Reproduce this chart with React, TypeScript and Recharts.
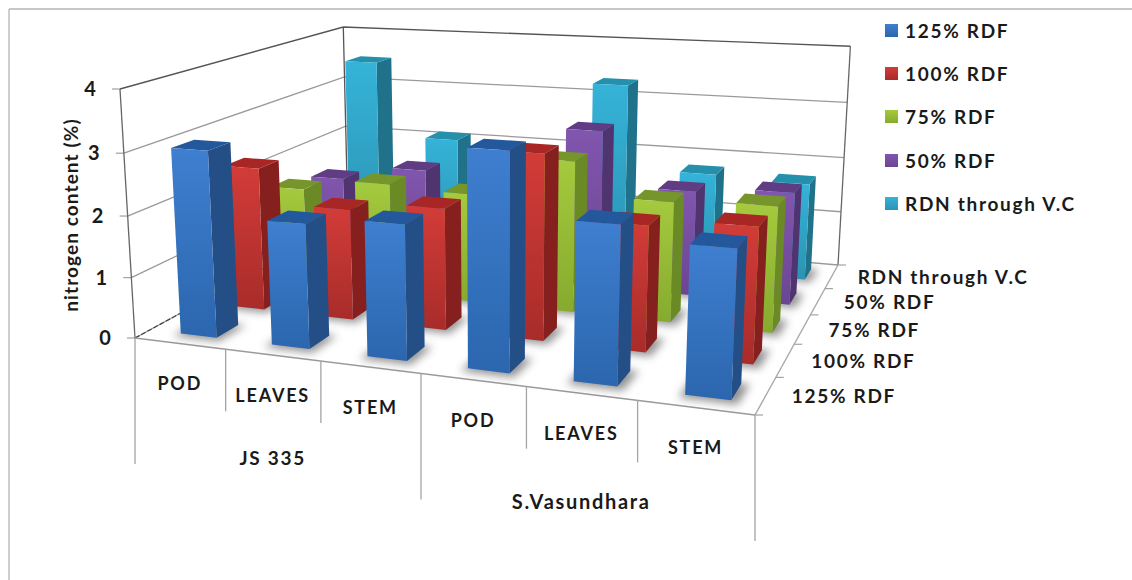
import React from 'react';
import { BarChart, Bar, XAxis, YAxis, Legend, Customized } from 'recharts';

// Categories and series
const parts = ['POD', 'LEAVES', 'STEM', 'POD', 'LEAVES', 'STEM'];
const varieties = ['JS 335', 'S.Vasundhara'];
const seriesNames = ['125% RDF', '100% RDF', '75% RDF', '50% RDF', 'RDN through V.C'];
const yTicks = [0, 1, 2, 3, 4];

// Nitrogen content (%) per plant part
const rdf125 = [3.03, 2.0, 2.13, 3.35, 2.4, 2.2];
const rdf100 = [2.42, 1.85, 2.0, 2.99, 2.0, 2.12];
const rdf75 = [1.72, 1.93, 1.87, 2.55, 2.0, 2.06];
const rdf50 = [1.57, 1.84, 1.9, 2.76, 1.82, 1.92];
const rdnVc = [3.5, 2.1, 1.8, 3.3, 1.78, 1.72];

const seriesValues = [rdf125, rdf100, rdf75, rdf50, rdnVc];
const table = parts.map((part, i) => {
  const row: Record<string, string | number> = { part };
  seriesValues.forEach((vals, k) => { row['s' + k] = vals[i]; });
  return row;
});

const palette = [
  { id: 'blue', top: '#3f7fd0', bottom: '#2b66ae', side: '#234f86', cap: '#24589c' },
  { id: 'red', top: '#d23c38', bottom: '#a82c2a', side: '#85201f', cap: '#a82725' },
  { id: 'green', top: '#a5ca3e', bottom: '#86aa2e', side: '#6a8a25', cap: '#76952a' },
  { id: 'purple', top: '#8156ae', bottom: '#6b4692', side: '#503470', cap: '#5f3c84' },
  { id: 'cyan', top: '#35b3d8', bottom: '#2b93b2', side: '#1f7289', cap: '#2490ab' },
];

const W = 1132;
const H = 580;
const plot = { left: 100, top: 50, width: 932, height: 480 };
const margin = { left: plot.left - 1, top: plot.top, right: W - plot.left - plot.width, bottom: H - plot.top - plot.height - 1 };
const DEPTH_FILL = 0.44;
const BAR_SHIFT = 0.008;

// Perspective camera: four floor corners plus the wall height on the left edge
const floor = { x0: 135, y0: 338, x1: 755, y1: 415, x2: 838, y2: 265, x3: 348, y3: 222 };
const wallTop = { frontX: 120, frontY: 89, backY: 27 };

const cam = (() => {
  const { x0, y0, x1, y1, x2, y2, x3, y3 } = floor;
  const dx1 = x1 - x2, dx2 = x3 - x2, sx = x0 - x1 + x2 - x3;
  const dy1 = y1 - y2, dy2 = y3 - y2, sy = y0 - y1 + y2 - y3;
  const den = dx1 * dy2 - dx2 * dy1;
  const g = (sx * dy2 - dx2 * sy) / den;
  const h = (dx1 * sy - sx * dy1) / den;
  const a = x1 - x0 + g * x1, b = x3 - x0 + h * x3;
  const d = y1 - y0 + g * y1, e = y3 - y0 + h * y3;
  const bw = 1 + h, by = e + y0;
  const j = (wallTop.backY * bw - by - wallTop.frontY + y0) / (wallTop.frontY - wallTop.backY);
  const cz = wallTop.frontX * (1 + j) - x0;
  const fz = wallTop.frontY * (1 + j) - y0;
  return { a, b, c: x0, d, e, f: y0, g, h, j, cz, fz };
})();

// u runs along the categories, v into the depth, z up the value axis (all 0..1)
function project(u: number, v: number, z: number) {
  const w = cam.g * u + cam.h * v + cam.j * z + 1;
  return {
    x: (cam.a * u + cam.b * v + cam.cz * z + cam.c) / w,
    y: (cam.d * u + cam.e * v + cam.fz * z + cam.f) / w,
  };
}

const poly = (pts: { x: number; y: number }[]) => pts.map((p) => `${p.x},${p.y}`).join(' ');
const toU = (x: number) => (x - plot.left) / plot.width;
const toZ = (y: number) => (plot.top + plot.height - y) / plot.height;

const FONT = 'Lato, sans-serif';
const labelStyle = { fontFamily: FONT, fontWeight: 700, fontSize: 19, letterSpacing: 1.7, fill: '#1a1a1a' };

function Box3D(props: any) {
  const { x, y, width, height, depth } = props;
  if (!height || height <= 0) return null;
  const c = palette[depth];
  const u0 = toU(x) + BAR_SHIFT, u1 = toU(x + width) + BAR_SHIFT;
  const zTop = toZ(y);
  const v0 = (depth + (1 - DEPTH_FILL) / 2) / 5;
  const v1 = v0 + DEPTH_FILL / 5;
  const fl = project(u0, v0, 0), fr = project(u1, v0, 0), br = project(u1, v1, 0);
  const tfl = project(u0, v0, zTop), tfr = project(u1, v0, zTop);
  const tbr = project(u1, v1, zTop), tbl = project(u0, v1, zTop);
  const shadow = [
    project(u0 - 0.006, v0 - 0.018, 0), project(u1 + 0.012, v0 - 0.018, 0),
    project(u1 + 0.012, v1 + 0.004, 0), project(u0 - 0.006, v1 + 0.004, 0),
  ];
  return (
    <g>
      <polygon points={poly(shadow)} fill="#4a4a4a" opacity={0.6} filter="url(#floorShadow)" />
      <polygon points={poly([fr, br, tbr, tfr])} fill={c.side} />
      <polygon points={poly([tfl, tfr, tbr, tbl])} fill={c.cap} />
      <polygon points={poly([fl, fr, tfr, tfl])} fill={`url(#face-${c.id})`} />
    </g>
  );
}

// Frame, side walls and floor edges behind the bars
function Walls() {
  const lines: React.ReactNode[] = [];
  yTicks.forEach((t) => {
    const z = t / 4;
    const a = project(0, 0, z), b = project(0, 1, z), c = project(1, 1, z);
    const top = t === 4;
    const stroke = top ? '#555' : '#9a9a9a';
    lines.push(<polyline key={t} points={poly([a, b, c])} fill="none" stroke={stroke} strokeWidth={1.3} />);
    lines.push(<line key={`s${t}`} x1={a.x - 8} y1={a.y} x2={a.x} y2={a.y} stroke="#a0a0a0" strokeWidth={1.2} />);
  });
  const cl = (u: number, v: number) => [project(u, v, 0), project(u, v, 1)];
  const [a0, a1] = cl(0, 0), [b0, b1] = cl(0, 1), [c0, c1] = cl(1, 1);
  const f1 = project(1, 0, 0);
  return (
    <g>
      <defs>
        {palette.map((c) => (
          <linearGradient key={c.id} id={`face-${c.id}`} x1="0" y1="0" x2="0" y2="1">
            <stop offset="0" stopColor={c.top} />
            <stop offset="1" stopColor={c.bottom} />
          </linearGradient>
        ))}
        <filter id="floorShadow" x="-50%" y="-50%" width="200%" height="200%">
          <feGaussianBlur stdDeviation="4" />
        </filter>
      </defs>
      <line x1={9} y1={9} x2={W} y2={9} stroke="#b4b4b4" strokeWidth={1.3} />
      <line x1={9} y1={9} x2={9} y2={H} stroke="#b4b4b4" strokeWidth={1.3} />
      {lines}
      <line x1={a0.x} y1={a0.y} x2={a1.x} y2={a1.y} stroke="#666" strokeWidth={1.3} />
      <line x1={b0.x} y1={b0.y} x2={b1.x} y2={b1.y} stroke="#555" strokeWidth={1.3} />
      <line x1={c0.x} y1={c0.y} x2={c1.x} y2={c1.y} stroke="#666" strokeWidth={1.3} />
      <line x1={a0.x} y1={a0.y} x2={b0.x} y2={b0.y} stroke="#444" strokeWidth={1.2} strokeDasharray="5 2" />
      <line x1={a0.x} y1={a0.y} x2={f1.x} y2={f1.y} stroke="#9a9a9a" strokeWidth={1.4} />
      <line x1={f1.x} y1={f1.y} x2={c0.x} y2={c0.y} stroke="#a8a8a8" strokeWidth={1.4} />
    </g>
  );
}

// Two-level category axis and the depth axis in front of the floor
function FloorLabels() {
  const items: React.ReactNode[] = [];
  for (let i = 0; i <= 6; i += 1) {
    const p = project(i / 6, 0, 0);
    const long = i % 3 === 0;
    items.push(
      <line key={`sep${i}`} x1={p.x} y1={p.y} x2={p.x} y2={p.y + (long ? 126 : 62)} stroke="#a4a4a4" strokeWidth={1.3} />,
    );
  }
  varieties.forEach((name, i) => {
    const p = project((i + 0.5) / 2, 0, 0);
    items.push(
      <text key={name} x={p.x} y={p.y + (i === 0 ? 105 : 110)} textAnchor="middle" dominantBaseline="middle" {...labelStyle} fontSize={i === 0 ? 19 : 20}>
        {name}
      </text>,
    );
  });
  seriesNames.forEach((name, k) => {
    const tick = project(1, (k + 1) / 5, 0);
    const mid = project(1, (k + 0.5) / 5, 0);
    items.push(<line key={`dt${k}`} x1={tick.x} y1={tick.y} x2={tick.x + 8} y2={tick.y} stroke="#a4a4a4" strokeWidth={1.2} />);
    items.push(
      <text key={name} x={mid.x + 26} y={mid.y + 3} dominantBaseline="middle" {...labelStyle}>
        {name}
      </text>,
    );
  });
  const end = project(1, 0, 0);
  items.push(<line key="dt-start" x1={end.x} y1={end.y} x2={end.x + 8} y2={end.y} stroke="#a4a4a4" strokeWidth={1.2} />);
  return <g>{items}</g>;
}

function CategoryTick(props: any) {
  const { x, payload } = props;
  const p = project(toU(x), 0, 0);
  return (
    <text x={p.x} y={p.y + 42} textAnchor="middle" dominantBaseline="middle" {...labelStyle} fontSize={18} letterSpacing={1.8}>
      {payload.value}
    </text>
  );
}

function ValueTick(props: any) {
  const { y, payload } = props;
  const p = project(0, 0, toZ(y));
  return (
    <text x={p.x - 30} y={p.y + 2} textAnchor="middle" dominantBaseline="middle" {...labelStyle} fontSize={20} letterSpacing={0}>
      {payload.value}
    </text>
  );
}

function LegendList() {
  return (
    <div style={{ fontFamily: FONT }}>
      {seriesNames.map((name, k) => (
        <div key={name} style={{ display: 'flex', alignItems: 'center', height: 43.2, whiteSpace: 'nowrap' }}>
          <span style={{ width: 13, height: 13, marginRight: 7, background: `linear-gradient(${palette[k].top}, ${palette[k].bottom})` }} />
          <span style={{ fontWeight: 700, fontSize: 19, letterSpacing: 1.7, color: '#1a1a1a' }}>{name}</span>
        </div>
      ))}
    </div>
  );
}

export default function App() {
  // Back rows paint first so nearer rows overlap them
  const order = [4, 3, 2, 1, 0];
  return (
    <div style={{ position: 'absolute', left: 0, top: 0, width: W, height: H, background: '#fff', overflow: 'hidden' }}>
      <BarChart width={W} height={H} data={table} margin={margin} barCategoryGap="30%">
        <Customized component={Walls} />
        {order.map((k) => (
          <XAxis
            key={k}
            xAxisId={k}
            dataKey="part"
            interval={0}
            height={1}
            hide={k !== 0}
            axisLine={false}
            tickLine={false}
            tick={k === 0 ? <CategoryTick /> : false}
          />
        ))}
        <YAxis domain={[0, 4]} ticks={yTicks} width={1} axisLine={false} tickLine={false} tick={<ValueTick />} />
        {order.map((k) => (
          <Bar
            key={k}
            xAxisId={k}
            dataKey={`s${k}`}
            name={seriesNames[k]}
            fill={palette[k].top}
            isAnimationActive={false}
            shape={(p: any) => <Box3D {...p} depth={k} />}
          />
        ))}
        <Customized component={FloorLabels} />
        <text
          x={73}
          y={215}
          transform="rotate(-90 73 215)"
          textAnchor="middle"
          dominantBaseline="middle"
          fontFamily={FONT}
          fontWeight={700}
          fontSize={19}
          letterSpacing={1.1}
          fill="#1a1a1a"
        >
          nitrogen content (%)
        </text>
        <Legend
          layout="vertical"
          align="center"
          verticalAlign="middle"
          content={<LegendList />}
          wrapperStyle={{ left: 885, top: 9, width: 240 }}
        />
      </BarChart>
    </div>
  );
}
